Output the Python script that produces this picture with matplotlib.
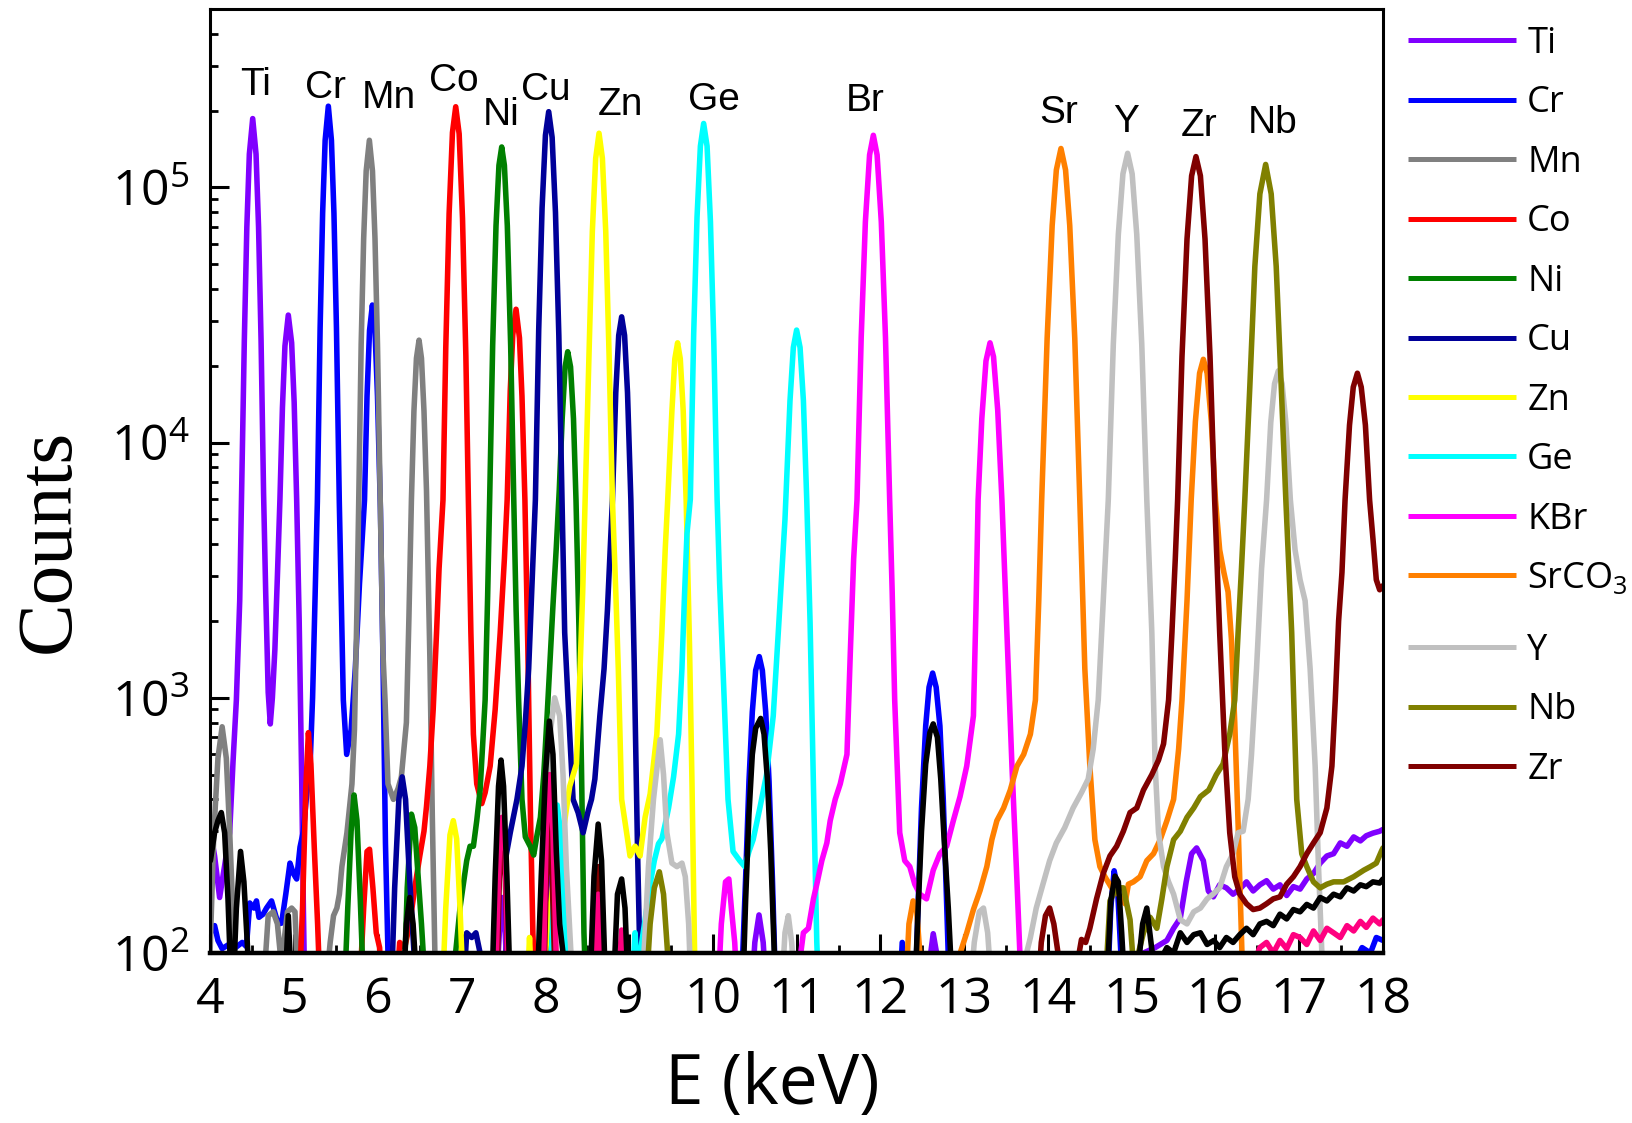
import matplotlib
matplotlib.use("Agg")
import matplotlib.pyplot as plt
from matplotlib.ticker import MultipleLocator, LogLocator, NullFormatter

# Spectra: (energy in keV, counts)
ti_spec = [
    (4.00, 300), (4.05, 240), (4.11, 165), (4.17, 220), (4.23, 296), (4.27, 560), (4.31, 980), (4.35, 2400),
    (4.37, 5700), (4.405, 25100), (4.435, 69800), (4.465, 135000), (4.505, 186000), (4.545, 135000),
    (4.575, 69800), (4.605, 25100), (4.635, 6300), (4.66, 2600), (4.69, 1050), (4.715, 790), (4.74, 1000),
    (4.77, 1550), (4.80, 3000), (4.83, 5960), (4.86, 13700), (4.89, 23900), (4.93, 31600), (4.97, 24600),
    (5.00, 14400), (5.03, 5960), (5.06, 2000), (5.09, 480), (5.11, 150), (5.13, 60),
    (7.40, 60), (7.45, 120), (7.48, 165), (7.52, 120), (7.56, 60),
    (7.98, 60), (8.02, 220), (8.045, 300), (8.08, 200), (8.12, 60),
    (8.58, 60), (8.63, 155), (8.68, 60),
    (10.45, 60), (10.50, 110), (10.55, 141), (10.60, 110), (10.65, 60),
    (12.55, 60), (12.60, 100), (12.63, 119), (12.67, 100), (12.72, 60),
    (15.10, 60), (15.14, 100), (15.28, 105), (15.42, 112), (15.50, 125), (15.58, 137), (15.65, 190),
    (15.715, 245), (15.775, 258), (15.855, 230), (15.915, 175), (15.975, 166), (16.05, 185), (16.13, 180),
    (16.21, 170), (16.29, 178), (16.37, 190), (16.45, 175), (16.53, 185), (16.61, 192), (16.69, 178),
    (16.77, 185), (16.85, 168), (16.93, 182), (17.01, 178), (17.09, 195), (17.17, 205), (17.25, 225),
    (17.33, 240), (17.41, 245), (17.49, 270), (17.57, 262), (17.65, 285), (17.73, 275), (17.80, 288),
    (17.88, 295), (17.96, 300), (18.00, 305),
]

cr_spec = [
    (4.00, 120), (4.05, 128), (4.09, 112), (4.14, 104), (4.22, 108), (4.30, 105), (4.38, 110), (4.43, 106),
    (4.47, 157), (4.52, 150), (4.55, 160), (4.58, 138), (4.63, 142), (4.67, 150), (4.73, 160), (4.78, 140),
    (4.81, 130), (4.85, 131), (4.90, 170), (4.95, 225), (4.99, 205), (5.03, 195), (5.07, 260), (5.11, 300),
    (5.15, 420), (5.19, 540), (5.22, 1000), (5.25, 2500), (5.277, 5860), (5.31, 28100), (5.34, 79300),
    (5.37, 153000), (5.408, 208000), (5.445, 153000), (5.475, 79300), (5.505, 28100), (5.539, 5860),
    (5.587, 980), (5.627, 600), (5.68, 750), (5.73, 1300), (5.78, 2800), (5.84, 5960), (5.87, 15200),
    (5.90, 27500), (5.934, 34600), (5.965, 27500), (5.995, 15200), (6.03, 5470), (6.06, 1440), (6.09, 270),
    (6.12, 100), (6.16, 60),
    (7.98, 60), (8.02, 120), (8.045, 137), (8.07, 110), (8.10, 60),
    (10.33, 60), (10.39, 196), (10.43, 470), (10.47, 880), (10.51, 1280), (10.553, 1450), (10.59, 1280),
    (10.63, 880), (10.67, 470), (10.71, 196), (10.75, 70),
    (12.22, 60), (12.26, 110), (12.29, 60),
    (12.41, 60), (12.45, 157), (12.49, 370), (12.54, 775), (12.58, 1100), (12.623, 1250), (12.665, 1100),
    (12.71, 775), (12.75, 400), (12.79, 157), (12.83, 60),
    (14.70, 60), (14.75, 150), (14.79, 210), (14.83, 180), (14.87, 100), (14.90, 60),
    (17.55, 60), (17.65, 90), (17.75, 105), (17.85, 100), (17.92, 115), (18.00, 112),
]

mn_spec = [
    (3.98, 70), (4.00, 110), (4.04, 290), (4.09, 580), (4.14, 770), (4.19, 580), (4.23, 300), (4.27, 140),
    (4.31, 70),
    (4.63, 70), (4.69, 140), (4.75, 145), (4.80, 130), (4.84, 95), (4.87, 105), (4.92, 145), (4.97, 150),
    (5.01, 145), (5.05, 70),
    (5.39, 80), (5.43, 110), (5.47, 140), (5.51, 150), (5.54, 170), (5.57, 218), (5.63, 296), (5.69, 460),
    (5.72, 750), (5.75, 2260), (5.77, 5630), (5.80, 24200), (5.83, 63200), (5.86, 116000), (5.898, 153000),
    (5.935, 116000), (5.965, 63200), (5.995, 24200), (6.03, 5360), (6.06, 1500), (6.085, 980), (6.12, 460),
    (6.185, 400), (6.24, 440), (6.28, 490), (6.34, 800), (6.37, 2050), (6.40, 5960), (6.43, 13300),
    (6.46, 21400), (6.491, 25200), (6.52, 21400), (6.55, 13300), (6.58, 6480), (6.62, 1450), (6.65, 335),
    (6.68, 100), (6.70, 60),
]

co_spec = [
    (5.06, 70), (5.10, 150), (5.14, 450), (5.17, 730), (5.20, 550), (5.24, 260), (5.28, 130), (5.31, 70),
    (5.78, 70), (5.83, 150), (5.87, 250), (5.90, 255), (5.94, 180), (5.98, 120), (6.02, 105), (6.05, 70),
    (6.22, 70), (6.26, 110), (6.32, 105), (6.38, 130), (6.44, 180), (6.50, 240), (6.55, 300), (6.58, 375),
    (6.62, 540), (6.66, 900), (6.70, 1800), (6.73, 3200), (6.777, 5960), (6.81, 23400), (6.85, 78900),
    (6.89, 164000), (6.929, 207000), (6.97, 162000), (7.01, 75500), (7.05, 21900), (7.08, 5960), (7.11, 1800),
    (7.14, 720), (7.18, 460), (7.24, 385), (7.28, 425), (7.34, 540), (7.40, 900), (7.46, 1800), (7.51, 3500),
    (7.543, 5960), (7.58, 16000), (7.61, 26400), (7.649, 33300), (7.69, 25700), (7.72, 15200), (7.755, 5960),
    (7.79, 1570), (7.82, 370), (7.85, 120), (7.88, 70),
]

ni_spec = [
    (5.60, 70), (5.64, 150), (5.68, 300), (5.715, 416), (5.75, 330), (5.79, 160), (5.83, 70),
    (6.31, 70), (6.35, 180), (6.40, 350), (6.44, 310), (6.48, 200), (6.52, 130), (6.57, 70),
    (6.88, 70), (6.94, 110), (6.98, 150), (7.02, 186), (7.06, 230), (7.10, 262), (7.14, 262), (7.18, 330),
    (7.22, 435), (7.25, 650), (7.28, 980), (7.31, 2500), (7.334, 5960), (7.37, 24000), (7.41, 70700),
    (7.445, 122000), (7.478, 144000), (7.51, 122000), (7.545, 70700), (7.585, 24000), (7.622, 5960),
    (7.65, 2200), (7.68, 980), (7.72, 400), (7.76, 285), (7.82, 261), (7.86, 242), (7.90, 290), (7.94, 340),
    (7.98, 500), (8.02, 850), (8.05, 1300), (8.09, 2300), (8.13, 3900), (8.165, 6500), (8.20, 12400),
    (8.235, 19800), (8.266, 22700), (8.30, 19800), (8.335, 12400), (8.365, 5960), (8.40, 1890), (8.43, 545),
    (8.46, 120), (8.49, 60),
]

cu_spec = [
    (6.16, 70), (6.20, 180), (6.25, 400), (6.29, 490), (6.33, 400), (6.37, 220), (6.41, 130), (6.46, 70),
    (7.02, 70), (7.06, 120), (7.12, 115), (7.17, 120), (7.22, 100), (7.26, 70),
    (7.38, 80), (7.42, 150), (7.46, 218), (7.52, 230), (7.58, 296), (7.66, 400), (7.72, 540), (7.76, 800),
    (7.80, 1300), (7.84, 2800), (7.88, 5960), (7.92, 27800), (7.96, 83000), (8.00, 160000), (8.039, 198000),
    (8.08, 157000), (8.12, 79600), (8.16, 26300), (8.198, 5960), (8.23, 1800), (8.29, 720), (8.33, 400),
    (8.39, 355), (8.45, 296), (8.51, 360), (8.55, 400), (8.59, 480), (8.65, 850), (8.70, 1300), (8.74, 2200),
    (8.80, 5960), (8.84, 15700), (8.875, 26300), (8.91, 31100), (8.945, 26300), (8.98, 15700), (9.02, 5960),
    (9.06, 1370), (9.10, 250), (9.13, 90), (9.15, 60),
]

zn_spec = [
    (6.77, 70), (6.81, 150), (6.86, 290), (6.90, 330), (6.94, 280), (6.98, 150), (7.02, 70),
    (7.78, 70), (7.81, 115), (7.84, 70),
    (7.98, 80), (8.02, 120), (8.09, 186), (8.15, 240), (8.21, 296), (8.29, 450), (8.37, 550), (8.41, 1200),
    (8.445, 2600), (8.474, 5960), (8.52, 22000), (8.56, 67300), (8.60, 130000), (8.64, 163000),
    (8.68, 130000), (8.72, 67300), (8.76, 22000), (8.80, 5960), (8.84, 2600), (8.87, 1300), (8.91, 400),
    (8.97, 295), (9.01, 240), (9.07, 262), (9.13, 240), (9.19, 340), (9.25, 420), (9.33, 720), (9.39, 1800),
    (9.43, 3800), (9.46, 5960), (9.51, 13300), (9.545, 21300), (9.578, 24600), (9.61, 21300), (9.645, 13300),
    (9.68, 5960), (9.72, 1620), (9.75, 460), (9.78, 105), (9.80, 60),
]

ge_spec = [
    (8.06, 70), (8.10, 200), (8.14, 380), (8.18, 300), (8.22, 150), (8.26, 70),
    (9.03, 70), (9.07, 120), (9.10, 80), (9.15, 110), (9.21, 150), (9.25, 186), (9.30, 230), (9.35, 268),
    (9.39, 280), (9.43, 320), (9.47, 370), (9.53, 490), (9.59, 720), (9.63, 1300), (9.66, 2500), (9.69, 4400),
    (9.73, 6000), (9.77, 26600), (9.81, 76500), (9.85, 145000), (9.889, 178000), (9.93, 145000),
    (9.97, 73500), (10.01, 25000), (10.05, 5960), (10.08, 2800), (10.12, 1300), (10.18, 400), (10.24, 250),
    (10.32, 230), (10.38, 218), (10.43, 250), (10.48, 278), (10.56, 370), (10.64, 500), (10.72, 850),
    (10.78, 1800), (10.82, 3000), (10.86, 5000), (10.92, 14600), (10.96, 23600), (10.999, 27600),
    (11.04, 23600), (11.08, 14600), (11.12, 5960), (11.16, 1960), (11.20, 450), (11.24, 110), (11.27, 60),
]

kbr_spec = [
    (10.06, 70), (10.10, 130), (10.15, 190), (10.19, 195), (10.22, 150), (10.26, 110), (10.29, 70),
    (11.00, 70), (11.04, 95), (11.08, 120), (11.14, 125), (11.20, 163), (11.24, 186), (11.30, 230),
    (11.36, 270), (11.40, 330), (11.46, 400), (11.52, 460), (11.60, 600), (11.64, 1500), (11.68, 3500),
    (11.72, 5960), (11.77, 25800), (11.82, 73300), (11.87, 134000), (11.915, 160000), (11.96, 134000),
    (12.01, 73300), (12.06, 25800), (12.11, 5960), (12.14, 2600), (12.17, 980), (12.23, 296), (12.29, 230),
    (12.35, 218), (12.41, 186), (12.47, 170), (12.55, 163), (12.63, 211), (12.71, 245), (12.79, 262),
    (12.87, 330), (12.95, 410), (13.03, 540), (13.11, 850), (13.14, 2200), (13.166, 5960), (13.21, 12400),
    (13.26, 20900), (13.308, 24600), (13.35, 21700), (13.40, 13400), (13.45, 5960), (13.51, 1800),
    (13.57, 540), (13.63, 190), (13.67, 90), (13.70, 60),
]

srco3_spec = [
    (12.30, 70), (12.34, 130), (12.39, 160), (12.43, 150), (12.47, 100), (12.50, 70),
    (12.93, 95), (13.03, 120), (13.11, 148), (13.19, 176), (13.27, 218), (13.33, 278), (13.39, 330),
    (13.47, 370), (13.55, 435), (13.63, 540), (13.71, 600), (13.79, 720), (13.85, 980), (13.89, 2400),
    (13.925, 5960), (13.99, 25600), (14.05, 70800), (14.10, 117000), (14.155, 142000), (14.21, 117000),
    (14.26, 70800), (14.32, 25600), (14.38, 5960), (14.44, 1300), (14.50, 540), (14.56, 278), (14.62, 218),
    (14.68, 199), (14.76, 180), (14.84, 170), (14.92, 156), (14.96, 186), (15.02, 190), (15.10, 199),
    (15.18, 230), (15.26, 245), (15.34, 278), (15.42, 330), (15.50, 400), (15.56, 630), (15.60, 980),
    (15.66, 2400), (15.71, 5960), (15.76, 12100), (15.81, 18700), (15.855, 21200), (15.90, 18700),
    (15.95, 12100), (16.00, 5960), (16.05, 3800), (16.10, 3100), (16.15, 2600), (16.19, 1700), (16.23, 800),
    (16.27, 320), (16.30, 150), (16.33, 70),
]

y_spec = [
    (7.95, 70), (8.00, 300), (8.05, 700), (8.11, 1000), (8.17, 850), (8.21, 500), (8.25, 218), (8.29, 123),
    (8.33, 70),
    (9.15, 70), (9.19, 120), (9.23, 218), (9.29, 400), (9.37, 685), (9.41, 500), (9.45, 296), (9.51, 225),
    (9.57, 218), (9.63, 225), (9.67, 199), (9.71, 130), (9.74, 70),
    (10.82, 70), (10.86, 120), (10.90, 140), (10.94, 110), (10.98, 70),
    (13.07, 70), (13.12, 110), (13.18, 145), (13.23, 150), (13.28, 120), (13.33, 70),
    (13.71, 90), (13.79, 115), (13.86, 150), (13.94, 186), (14.02, 230), (14.10, 270), (14.20, 310),
    (14.30, 370), (14.40, 425), (14.48, 480), (14.54, 630), (14.60, 980), (14.66, 2400), (14.72, 5960),
    (14.78, 24200), (14.84, 65400), (14.895, 113000), (14.951, 136000), (15.005, 113000), (15.06, 65400),
    (15.12, 24200), (15.18, 5960), (15.24, 1800), (15.28, 540), (15.32, 296), (15.38, 218), (15.44, 190),
    (15.50, 170), (15.58, 135), (15.66, 130), (15.74, 145), (15.82, 150), (15.90, 163), (15.97, 170),
    (16.05, 180), (16.13, 218), (16.21, 245), (16.27, 296), (16.33, 300), (16.39, 400), (16.43, 600),
    (16.49, 1300), (16.55, 3200), (16.61, 5960), (16.66, 12000), (16.705, 17000), (16.75, 19100),
    (16.795, 17000), (16.84, 12000), (16.894, 5960), (16.95, 3800), (17.01, 2900), (17.07, 2400),
    (17.13, 1300), (17.19, 540), (17.23, 218), (17.27, 100), (17.30, 60),
]

nb_spec = [
    (9.20, 70), (9.25, 130), (9.30, 180), (9.36, 208), (9.41, 170), (9.45, 110), (9.49, 70),
    (14.68, 70), (14.74, 160), (14.82, 180), (14.90, 180), (14.98, 135), (15.02, 90), (15.08, 100),
    (15.14, 120), (15.22, 138), (15.30, 125), (15.36, 163), (15.42, 218), (15.50, 278), (15.58, 300),
    (15.66, 340), (15.74, 370), (15.82, 410), (15.92, 435), (16.01, 500), (16.09, 550), (16.17, 720),
    (16.23, 980), (16.27, 1800), (16.31, 3200), (16.35, 5960), (16.41, 16600), (16.47, 49000),
    (16.53, 94300), (16.599, 123000), (16.665, 94300), (16.725, 49000), (16.785, 16600), (16.84, 5960),
    (16.91, 1800), (16.97, 400), (17.03, 245), (17.09, 218), (17.17, 190), (17.25, 180), (17.33, 186),
    (17.41, 190), (17.53, 190), (17.65, 199), (17.77, 211), (17.85, 218), (17.92, 225), (17.98, 250),
    (18.00, 258),
]

zr_spec = [
    (7.42, 70), (7.45, 200), (7.48, 330), (7.52, 200), (7.56, 70),
    (7.98, 70), (8.01, 200), (8.04, 330), (8.08, 200), (8.12, 70),
    (8.58, 70), (8.63, 218), (8.68, 70),
    (13.88, 70), (13.92, 110), (13.97, 140), (14.02, 150), (14.07, 130), (14.12, 100), (14.16, 70),
    (14.36, 95), (14.40, 113), (14.45, 110), (14.50, 125), (14.58, 163), (14.66, 205), (14.74, 240),
    (14.82, 262), (14.90, 300), (14.98, 355), (15.06, 370), (15.14, 435), (15.24, 500), (15.32, 570),
    (15.38, 660), (15.44, 980), (15.48, 1800), (15.52, 3500), (15.548, 5960), (15.60, 21700),
    (15.66, 62700), (15.715, 111000), (15.767, 132000), (15.82, 111000), (15.875, 62700), (15.935, 21700),
    (15.99, 5960), (16.05, 1800), (16.11, 630), (16.17, 296), (16.23, 199), (16.29, 170), (16.37, 156),
    (16.45, 148), (16.53, 150), (16.61, 156), (16.69, 163), (16.77, 166), (16.85, 186), (16.93, 199),
    (17.01, 218), (17.09, 245), (17.17, 270), (17.25, 296), (17.33, 370), (17.39, 540), (17.43, 980),
    (17.47, 2000), (17.51, 3100), (17.547, 5960), (17.60, 11700), (17.645, 16500), (17.694, 18700),
    (17.74, 16500), (17.79, 11700), (17.84, 5960), (17.88, 4200), (17.92, 2900), (17.96, 2650),
    (18.00, 2750),
]

# two traces in the reference that have no legend entry
pink_spec = [
    (7.40, 70), (7.45, 250), (7.48, 340), (7.52, 250), (7.56, 70),
    (7.97, 70), (8.01, 300), (8.05, 500), (8.09, 300), (8.14, 70),
    (8.58, 70), (8.63, 170), (8.68, 70),
    (8.86, 70), (8.91, 123), (8.96, 70),
    (16.45, 90), (16.53, 105), (16.61, 110), (16.69, 100), (16.77, 112), (16.85, 104), (16.93, 118),
    (17.01, 115), (17.09, 108), (17.17, 122), (17.25, 112), (17.33, 125), (17.41, 120), (17.49, 115),
    (17.57, 128), (17.65, 122), (17.73, 133), (17.80, 126), (17.88, 137), (17.96, 130), (18.00, 135),
]

black_spec = [
    (4.00, 230), (4.05, 296), (4.09, 330), (4.13, 355), (4.17, 296), (4.21, 163), (4.25, 70),
    (4.27, 70), (4.31, 150), (4.36, 250), (4.40, 190), (4.44, 110), (4.47, 70),
    (4.89, 70), (4.93, 140), (4.97, 70),
    (6.30, 70), (6.34, 130), (6.38, 165), (6.42, 130), (6.47, 70),
    (7.36, 70), (7.40, 200), (7.44, 450), (7.47, 570), (7.50, 450), (7.54, 200), (7.58, 70),
    (7.90, 70), (7.95, 200), (8.00, 500), (8.047, 810), (8.09, 600), (8.13, 250), (8.17, 130), (8.21, 100),
    (8.25, 70),
    (8.53, 70), (8.58, 200), (8.63, 320), (8.67, 230), (8.72, 70),
    (8.81, 70), (8.86, 170), (8.91, 195), (8.95, 150), (8.99, 70),
    (10.35, 60), (10.39, 160), (10.43, 350), (10.47, 600), (10.51, 760), (10.57, 830), (10.61, 720),
    (10.65, 480), (10.69, 250), (10.72, 130), (10.75, 70),
    (12.41, 70), (12.45, 150), (12.49, 300), (12.54, 550), (12.59, 730), (12.63, 790), (12.68, 700),
    (12.72, 480), (12.76, 280), (12.81, 150), (12.86, 70),
    (14.70, 70), (14.75, 160), (14.80, 200), (14.84, 190), (14.88, 120), (14.92, 70),
    (15.08, 90), (15.13, 130), (15.18, 150), (15.23, 110), (15.27, 85), (15.35, 95), (15.42, 105),
    (15.50, 100), (15.58, 120), (15.66, 110), (15.74, 118), (15.82, 120), (15.90, 108), (15.98, 112),
    (16.05, 105), (16.13, 115), (16.21, 110), (16.29, 118), (16.37, 125), (16.45, 118), (16.53, 130),
    (16.61, 133), (16.69, 128), (16.77, 142), (16.85, 136), (16.93, 148), (17.01, 145), (17.09, 155),
    (17.17, 150), (17.25, 165), (17.33, 160), (17.41, 170), (17.49, 166), (17.57, 180), (17.65, 175),
    (17.73, 185), (17.80, 182), (17.88, 190), (17.96, 188), (18.00, 195),
]

series_data = [ti_spec, cr_spec, mn_spec, co_spec, ni_spec, cu_spec, zn_spec,
               ge_spec, kbr_spec, srco3_spec, y_spec, nb_spec, zr_spec]
series_labels = ['Ti', 'Cr', 'Mn', 'Co', 'Ni', 'Cu', 'Zn', 'Ge', 'KBr',
                 r'SrCO$_{\mathdefault{3}}$', 'Y', 'Nb', 'Zr']
series_colors = ['#8000FF', '#0000FF', '#808080', '#FF0000', '#008000', '#000099', '#FFFF00',
                 '#00FFFF', '#FF00FF', '#FF8000', '#C0C0C0', '#808000', '#800000']

extra_data = [pink_spec, black_spec]
extra_colors = ['#FF0080', '#000000']

# element names written above the peaks (baseline position)
peak_names = ['Ti', 'Cr', 'Mn', 'Co', 'Ni', 'Cu', 'Zn', 'Ge', 'Br', 'Sr', 'Y', 'Zr', 'Nb']
peak_label_e = [4.54, 5.37, 6.13, 6.91, 7.47, 8.00, 8.89, 10.01, 11.82, 14.13, 14.93, 15.80, 16.68]
peak_label_c = [2.30e5, 2.23e5, 2.04e5, 2.39e5, 1.75e5, 2.19e5, 1.92e5, 2.01e5, 2.00e5,
                1.78e5, 1.65e5, 1.59e5, 1.64e5]

x_ticks = list(range(4, 19))

W, H = 1633, 1123


def draw_spectra(ax):
    """Plot every trace; returns the handles that get a legend entry."""
    handles = []
    for data, label, color in zip(series_data, series_labels, series_colors):
        e, c = zip(*data)
        line, = ax.plot(e, c, color=color, lw=4.0, label=label,
                        solid_joinstyle='round', solid_capstyle='round')
        handles.append(line)
    for data, color in zip(extra_data, extra_colors):
        e, c = zip(*data)
        ax.plot(e, c, color=color, lw=4.0, solid_joinstyle='round', solid_capstyle='round')
    return handles


def add_legend(ax, fig, handles, labels, top_px):
    leg = ax.legend(handles, labels, loc='upper left',
                    bbox_to_anchor=(1408 / W, 1 - top_px / H), bbox_transform=fig.transFigure,
                    frameon=False, fontsize=26, handlelength=3.0, handletextpad=0.3,
                    labelspacing=0.65, borderpad=0, borderaxespad=0)
    for line in leg.get_lines():
        line.set_linewidth(3.6)
        line.set_solid_capstyle('butt')
    return leg


def main() -> None:
    plt.rcParams['font.family'] = ['Open Sans', 'DejaVu Sans']

    fig = plt.figure(figsize=(W / 100, H / 100), dpi=100)
    ax = fig.add_axes([210.4 / W, 1 - 953 / H, (1383 - 210.4) / W, (953 - 9) / H])

    handles = draw_spectra(ax)

    ax.set_yscale('log')
    ax.set_xlim(4, 18)
    ax.set_ylim(100, 5e5)
    ax.set_xticks(x_ticks)
    ax.xaxis.set_minor_locator(MultipleLocator(0.5))
    ax.yaxis.set_major_locator(LogLocator(base=10, numticks=10))
    ax.yaxis.set_minor_locator(LogLocator(base=10, subs=range(2, 10), numticks=20))
    ax.yaxis.set_minor_formatter(NullFormatter())

    ax.tick_params(which='both', direction='in', top=False, right=False)
    ax.tick_params(which='major', length=13.7, width=2.2, labelsize=36)
    ax.tick_params(which='minor', length=5.5, width=2.0)
    ax.tick_params(axis='x', pad=16)
    ax.tick_params(axis='y', pad=15)
    for spine in ax.spines.values():
        spine.set_linewidth(2.2)
    ax.spines['bottom'].set_linewidth(3.2)

    for name, e, c in zip(peak_names, peak_label_e, peak_label_c):
        ax.text(e, c, name, ha='center', va='baseline', fontsize=28,
                family=['Liberation Sans', 'DejaVu Sans'])

    fig.text(772 / W, 1 - 1104 / H, 'E (keV)', ha='center', va='baseline', fontsize=50)
    fig.text(50 / W, 1 - 541 / H, 'Counts', rotation=90, ha='center', va='center',
             fontsize=57, family=['Liberation Serif', 'DejaVu Serif'])

    # legend in two blocks: the SrCO3 row is taller in the reference
    first = add_legend(ax, fig, handles[:10], series_labels[:10], 25.8)
    ax.add_artist(first)
    add_legend(ax, fig, handles[10:], series_labels[10:], 632.9)

    fig.savefig('out.png', dpi=100)


if __name__ == "__main__":
    main()
